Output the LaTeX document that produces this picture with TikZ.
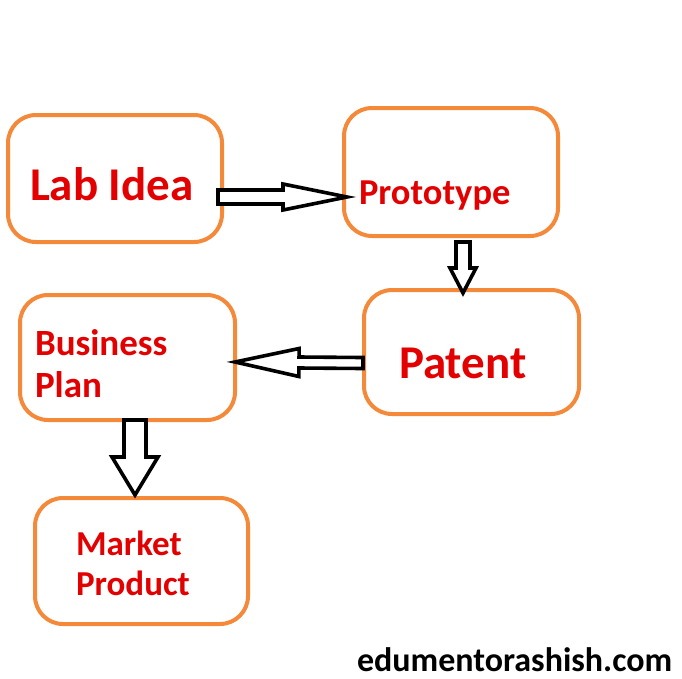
\documentclass[tikz,border=0pt]{standalone}
\usepackage{fontspec}
\setmainfont{Carlito}
\usetikzlibrary{calc}
\definecolor{boxorange}{RGB}{244,137,58}
\definecolor{txtred}{RGB}{226,0,0}
\tikzset{
  box/.style={draw=boxorange, line width=4pt, rounded corners=28pt, fill=white},
  lbl/.style={anchor=base west, inner sep=0pt, outer sep=0pt, text=txtred, font=\bfseries},
  blockarrow/.style={draw=black, line width=3.6pt, fill=white, line join=miter},
}
% #1 start, #2 end, #3 shaft half width, #4 head half width, #5 head length
\newcommand{\fatarrow}[5]{%
  \coordinate (fa-b) at ($(#2)!#5!(#1)$);
  \draw[blockarrow] ($(#1)!#3!90:(#2)$) -- ($(fa-b)!#3!90:(#2)$) -- ($(fa-b)!#4!90:(#2)$) -- (#2)
    -- ($(fa-b)!#4!-90:(#2)$) -- ($(fa-b)!#3!-90:(#2)$) -- ($(#1)!#3!-90:(#2)$) -- cycle;
}
\begin{document}
\begin{tikzpicture}[x=1pt,y=-1pt]
\useasboundingbox[fill=white] (0,0) rectangle (682,678);
% boxes
\node[box, minimum width=214pt, minimum height=127pt] (lab) at (115,178.5) {};
\node[box, minimum width=214pt, minimum height=128pt] (proto) at (451,172) {};
\node[box, minimum width=215pt, minimum height=124pt] (patent) at (471.5,352) {};
\node[box, minimum width=215pt, minimum height=125pt] (biz) at (127.5,357.5) {};
\node[box, minimum width=213pt, minimum height=126pt] (market) at (141.5,561) {};
% texts
\node[lbl, font=\bfseries\fontsize{47}{47}\selectfont] (t-lab) at (30,200) {Lab Idea};
\node[lbl, font=\bfseries\fontsize{36.5}{36.5}\selectfont] (t-proto) at (359,204) {Prototype};
\node[lbl, font=\bfseries\fontsize{47}{47}\selectfont] (t-patent) at (399,378) {Patent};
\node[lbl, font=\bfseries\fontsize{37}{37}\selectfont] (t-biz1) at (35,355) {Business};
\node[lbl, font=\bfseries\fontsize{37}{37}\selectfont] (t-biz2) at (35,397) {Plan};
\node[lbl, font=\bfseries\fontsize{35}{35}\selectfont] (t-mk1) at (76,555) {Market};
\node[lbl, font=\bfseries\fontsize{35}{35}\selectfont] (t-mk2) at (76,595) {Product};
\node[lbl, text=black, font=\bfseries\fontsize{34}{34}\selectfont] (t-web) at (357,671) {edumentorashish.com};
% arrow end points
\coordinate (a1s) at (218,197);
\coordinate (a1e) at (347,197);
\coordinate (a2s) at (463,242);
\coordinate (a2e) at (463,293);
\coordinate (a3s) at (363,363);
\coordinate (a3e) at (235,362);
\coordinate (a4s) at (135,420);
\coordinate (a4e) at (135,495);
\fatarrow{a1s}{a1e}{7pt}{13pt}{64pt}
\fatarrow{a2s}{a2e}{7pt}{13pt}{25pt}
\fatarrow{a3s}{a3e}{5.5pt}{14pt}{64pt}
\fatarrow{a4s}{a4e}{11pt}{23pt}{38pt}
\end{tikzpicture}
\end{document}
